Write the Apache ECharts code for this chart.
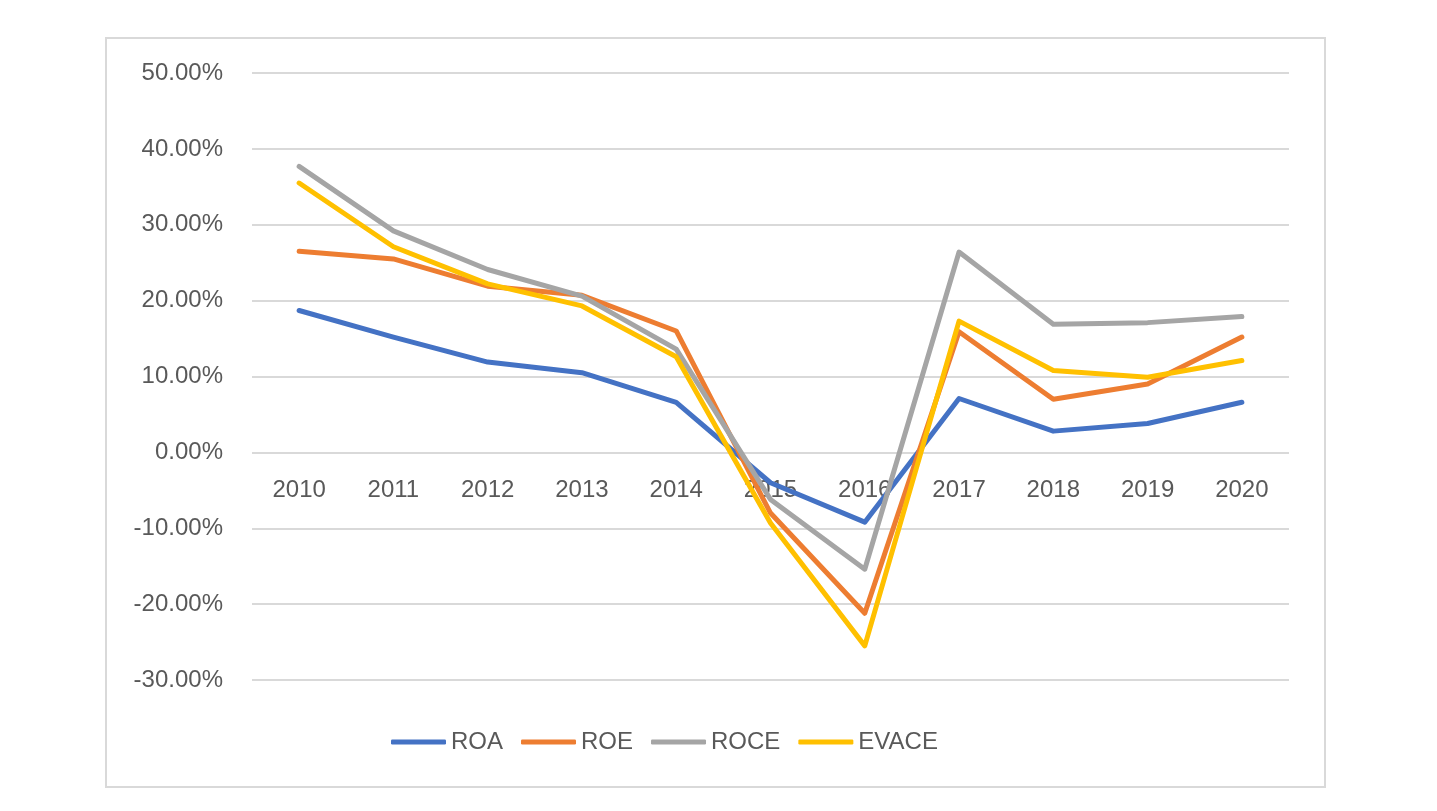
<!DOCTYPE html>
<html>
<head>
<meta charset="utf-8">
<script src="https://cdn.jsdelivr.net/npm/echarts@6/dist/echarts.min.js"></script>
<style>
  html, body { margin: 0; padding: 0; background: #fff; }
  #chart { width: 1437px; height: 811px; }
</style>
</head>
<body>
<div id="chart"></div>
<script>
// data (percent)
const years = ['2010', '2011', '2012', '2013', '2014', '2015', '2016', '2017', '2018', '2019', '2020'];
const roa   = [18.7, 15.2, 11.9, 10.5, 6.6, -4.0, -9.2, 7.1, 2.8, 3.8, 6.6];
const roe   = [26.5, 25.5, 21.9, 20.7, 16.0, -8.0, -21.2, 15.9, 7.0, 9.0, 15.2];
const roce  = [37.7, 29.2, 24.1, 20.6, 13.6, -6.2, -15.4, 26.4, 16.9, 17.1, 17.9];
const evace = [35.5, 27.1, 22.2, 19.3, 12.6, -9.3, -25.5, 17.3, 10.8, 9.9, 12.1];

const names  = ['ROA', 'ROE', 'ROCE', 'EVACE'];
const colors = ['#4472C4', '#ED7D31', '#A5A5A5', '#FFC000'];
const values = [roa, roe, roce, evace];

const labelFont = 'Liberation Sans, Arial, sans-serif';

let chart = echarts.init(document.getElementById('chart'));
let option = {
    color: colors,
    animation: false,
    graphic: [
        {
            type: 'rect',
            shape: { x: 106, y: 38, width: 1219, height: 749 },
            style: { fill: 'none', stroke: '#D9D9D9', lineWidth: 2 },
            silent: true
        }
    ],
    grid: {
        left: 252,
        right: 148,
        top: 73,
        bottom: 131,
        containLabel: false
    },
    legend: {
        top: 725,
        left: 386,
        icon: 'roundRect',
        itemWidth: 55,
        itemHeight: 5,
        itemGap: 18,
        textStyle: { color: '#595959', fontSize: 24, fontFamily: labelFont },
        data: names
    },
    xAxis: {
        type: 'category',
        data: years,
        boundaryGap: true,
        position: 'bottom',
        // category labels sit just under the 0% line, as in the excel chart
        offset: -228,
        axisLine: { show: false, onZero: false },
        axisTick: { show: false },
        axisLabel: { color: '#595959', fontSize: 24, fontFamily: labelFont, margin: 26 }
    },
    yAxis: {
        type: 'value',
        min: -30,
        max: 50,
        interval: 10,
        axisLine: { show: false },
        axisTick: { show: false },
        splitLine: { lineStyle: { color: '#D9D9D9', width: 2 } },
        axisLabel: {
            color: '#595959',
            fontSize: 24,
            fontFamily: labelFont,
            margin: 29,
            formatter: function (v) { return v.toFixed(2) + '%'; }
        }
    },
    series: names.map(function (n, i) {
        return {
            name: n,
            type: 'line',
            data: values[i],
            symbol: 'none',
            lineStyle: { width: 5, color: colors[i], cap: 'round', join: 'round' }
        };
    })
};
chart.setOption(option);
</script>
</body>
</html>
